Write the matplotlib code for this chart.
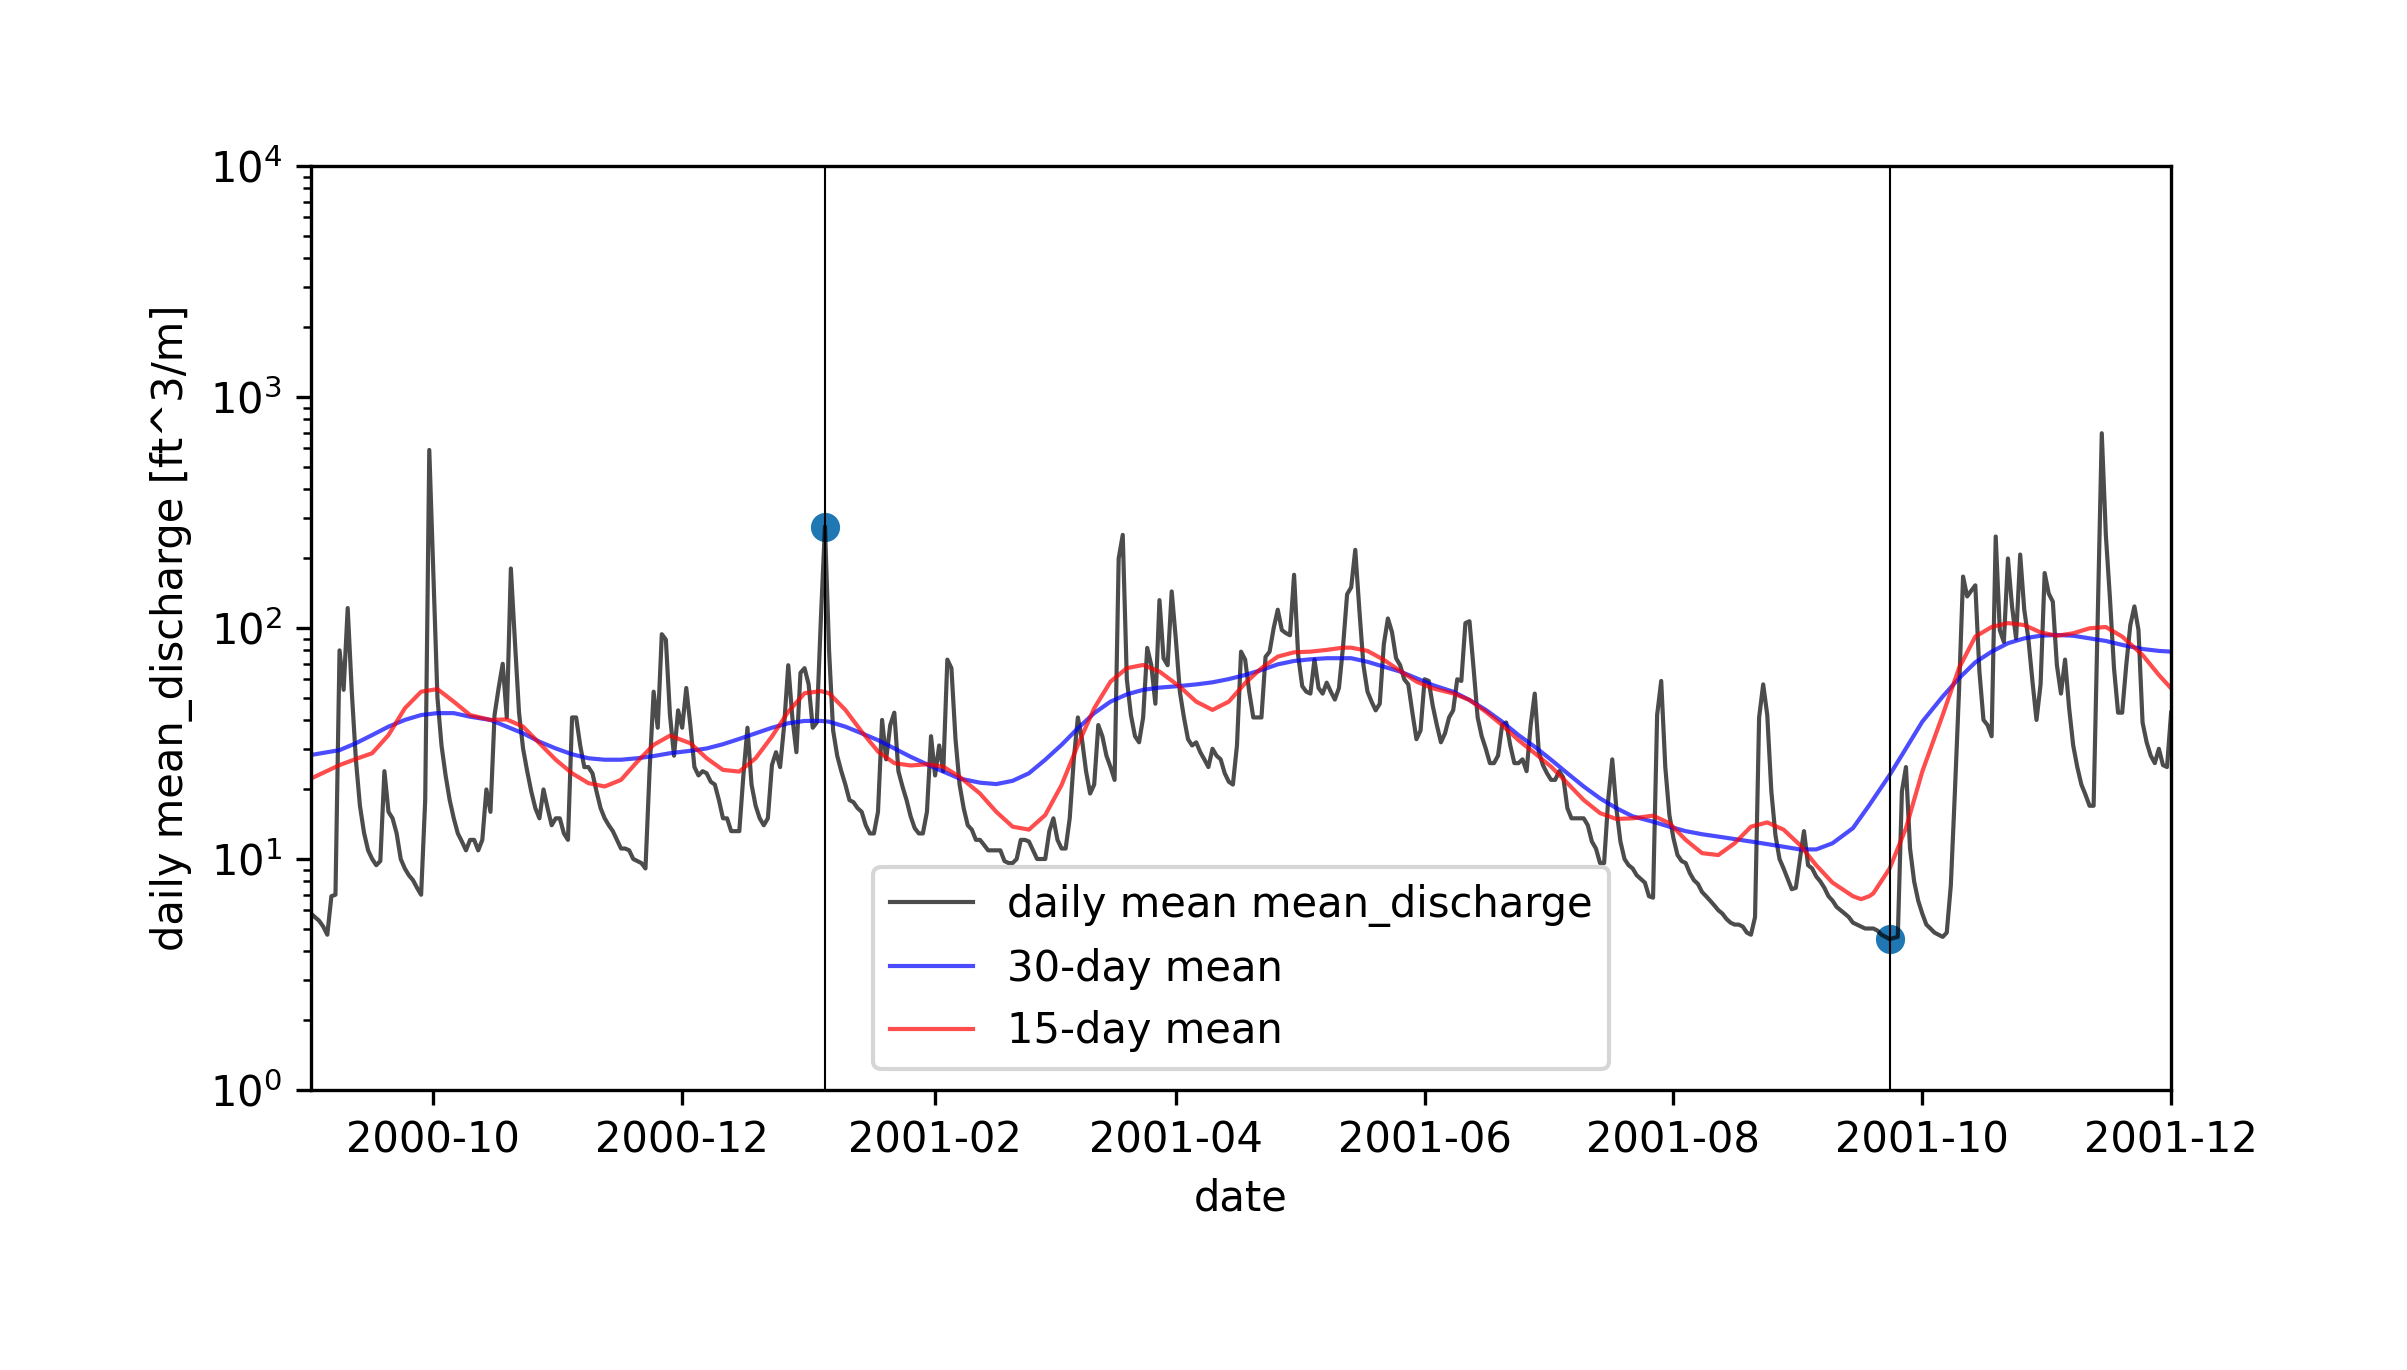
import numpy as np
import pandas as pd
import matplotlib
matplotlib.use('Agg')
import matplotlib.pyplot as plt
import matplotlib.dates as mdates

# daily mean discharge, one value per day starting 2000-09-01
start_date = '2000-09-01'
sep_2000 = [5.8, 5.6, 5.4, 5.1, 4.7, 6.9, 7.0, 80, 54, 122, 53, 27, 17, 13, 10.9,
            10.0, 9.4, 9.8, 24, 16, 15, 12.9, 10.0, 9.1, 8.5, 8.1, 7.5, 7.0, 18, 590]
oct_2000 = [170, 50, 31, 23, 18, 15, 12.9, 11.9, 10.9, 12.1, 12.1, 10.9, 12.1, 20, 16,
            42, 55, 70, 41, 181, 87, 43, 30, 24, 19.6, 16.6, 15, 20, 16.6, 14, 15]
nov_2000 = [15, 12.9, 12.1, 41, 41, 31, 25, 25, 23.5, 19.6, 16.6, 15, 14, 13.2, 12.1,
            11.1, 11.1, 10.9, 10, 9.8, 9.6, 9.1, 24, 53, 37, 94, 89, 42, 28, 44]
dec_2000 = [37, 55, 38, 25, 23, 24, 23.5, 21.6, 21, 18, 15, 15, 13.2, 13.2, 13.2, 23,
            37, 21, 17, 15, 14, 15, 25.5, 29, 25, 38, 69, 41, 29, 64, 67]
jan_2001 = [57, 37, 39, 110, 275, 80, 36, 28, 24, 21, 18, 17.6, 16.6, 16, 14, 12.9,
            12.9, 16, 40, 27, 38, 43, 24, 20.6, 18, 15.3, 13.6, 12.9, 12.9, 16, 34]
feb_2001 = [23, 31, 24, 73, 67, 33, 21, 16.6, 14, 13.4, 12.1, 12.1, 11.5, 10.9, 10.9,
            10.9, 10.9, 9.8, 9.6, 9.6, 10, 12.1, 12.1, 11.9, 10.9, 10, 10, 10]
mar_2001 = [13.2, 15, 12.1, 11.1, 11.1, 15, 27, 41, 33, 24, 19.2, 21, 38, 34, 28, 25,
            22, 200, 253, 60, 42, 34, 32, 41, 82, 69, 47, 132, 74, 69, 144]
apr_2001 = [90, 53, 41, 33, 31, 32, 29, 27, 25, 30, 28, 27, 23.5, 21.6, 21, 31, 79,
            73, 53, 41, 41, 41, 75, 79, 100, 120, 98, 95, 93, 170]
may_2001 = [76, 56, 53, 52, 73, 55, 52, 58, 53, 49, 55, 83, 140, 150, 218, 120, 69,
            53, 48, 44, 47, 85, 110, 96, 74, 69, 60, 57, 43, 33, 36]
jun_2001 = [60, 59, 46, 38, 32, 35, 41, 44, 60, 59, 105, 107, 67, 41, 34, 30, 26, 26,
            28, 38, 39, 31, 26, 26, 27, 24, 38, 52, 29, 25.5]
jul_2001 = [23.5, 22, 22, 24, 22.5, 16.6, 15, 15, 15, 15, 14, 11.9, 11.1, 9.6, 9.6, 18,
            27, 16.6, 11.9, 10, 9.4, 9.1, 8.5, 8.2, 7.9, 6.9, 6.8, 42, 59, 25, 15.5]
aug_2001 = [12.3, 10.4, 9.8, 9.6, 8.7, 8.1, 7.8, 7.2, 6.9, 6.6, 6.3, 6.0, 5.8, 5.5, 5.3,
            5.2, 5.2, 5.1, 4.8, 4.7, 5.6, 41, 57, 42, 19.6, 12.7, 10, 9.1, 8.2, 7.4, 7.5]
sep_2001 = [10, 13.2, 9.4, 9.1, 8.4, 8.0, 7.5, 6.9, 6.6, 6.2, 6.0, 5.8, 5.6, 5.3, 5.2,
            5.1, 5.0, 5.0, 5.0, 4.9, 4.7, 4.6, 4.5, 4.55, 4.6, 19.6, 25, 11.1, 8.0, 6.6]
oct_2001 = [5.8, 5.2, 5.0, 4.8, 4.7, 4.6, 4.8, 7.7, 19.6, 53, 167, 137, 145, 153, 65,
            40, 38, 34, 249, 98, 87, 200, 124, 90, 208, 120, 90, 59, 40, 57, 173]
nov_2001 = [141, 130, 69, 52, 73, 45, 31, 25, 21, 19, 17, 17, 110, 697, 253, 135, 67,
            43, 43, 69, 103, 124, 98, 39, 32, 28, 26, 30, 25.5, 25]
dec_2001 = [43]

daily_values = (sep_2000 + oct_2000 + nov_2000 + dec_2000 + jan_2001 + feb_2001
                + mar_2001 + apr_2001 + may_2001 + jun_2001 + jul_2001 + aug_2001
                + sep_2001 + oct_2001 + nov_2001 + dec_2001)

# smoothed curves, read as (days after start, value)
mean30_days = [0, 7, 11, 15, 19, 23, 27, 31, 35, 39, 44, 48, 52, 56, 60, 64, 68, 72,
               76, 80, 84, 88, 93, 97, 101, 105, 109, 113, 117, 121, 125, 127, 131,
               135, 139, 143, 147, 151, 155, 159, 164, 168, 172, 176, 180, 184, 188,
               192, 196, 200, 204, 208, 213, 217, 221, 225, 229, 233, 237, 241, 245,
               249, 253, 255, 259, 263, 267, 271, 275, 280, 284, 288, 292, 296, 300,
               304, 308, 312, 316, 320, 324, 329, 333, 337, 341, 345, 349, 353, 357,
               361, 365, 369, 373, 378, 382, 387, 391, 395, 400, 404, 408, 412, 416,
               420, 424, 428, 432, 436, 440, 444, 449, 453, 456]
mean30_values = [28.2, 29.6, 31.7, 34.4, 37.4, 40, 42, 42.8, 42.8, 41.3, 40, 37.4, 35,
                 32.2, 30.1, 28.4, 27.3, 26.9, 26.9, 27.3, 27.9, 28.7, 29.4, 30.1, 31.4,
                 33.1, 35, 37, 38.7, 39.6, 39.6, 39.3, 37.4, 35, 32.7, 30.1, 27.7, 25.7,
                 23.9, 22.3, 21.4, 21.1, 21.8, 23.5, 26.9, 31.2, 36.8, 42.8, 48, 51.6,
                 54, 55.2, 56.1, 57, 58.2, 60.1, 62.6, 65.8, 69.6, 72, 73.2, 74, 74, 74,
                 71.4, 68, 64.8, 60.6, 56.6, 53, 48.8, 44.2, 39.3, 34.4, 30.6, 26.9,
                 23.5, 20.6, 18.3, 16.6, 15.3, 14.5, 13.8, 13.2, 12.8, 12.5, 12.2, 11.9,
                 11.6, 11.3, 11.0, 11.0, 11.7, 13.6, 17.1, 23.1, 30.1, 39.3, 50.5, 60.6,
                 71, 79, 85.9, 90.2, 92.6, 93.3, 92.6, 90.2, 87.9, 84.5, 81.1, 79.6, 79]

mean15_days = [0, 7, 11, 15, 19, 23, 27, 31, 35, 39, 44, 48, 52, 56, 60, 64, 68, 72,
               76, 80, 84, 88, 93, 97, 101, 105, 109, 113, 117, 121, 125, 127, 131,
               135, 139, 143, 147, 151, 155, 159, 164, 168, 172, 176, 180, 184, 188,
               192, 196, 200, 204, 208, 213, 217, 221, 225, 229, 233, 237, 241, 245,
               249, 253, 255, 259, 263, 267, 271, 275, 280, 284, 288, 292, 296, 300,
               304, 308, 312, 316, 320, 324, 329, 333, 337, 341, 345, 349, 353, 357,
               361, 365, 369, 373, 378, 380, 382, 383, 387, 391, 395, 400, 404, 408,
               412, 416, 420, 424, 428, 432, 436, 440, 444, 449, 453, 456]
mean15_values = [22.3, 25.5, 27.1, 28.7, 34.4, 44.9, 53, 54.4, 48, 42, 40, 40.2, 37.4,
                 31.7, 26.9, 23.5, 21.3, 20.6, 22, 26.4, 31.2, 34.2, 31.7, 27.3, 24.3,
                 23.9, 27.3, 33.9, 43.4, 52.2, 53.3, 52.2, 44.2, 35.6, 29.2, 26, 25.4,
                 25.7, 25.1, 22.7, 19.2, 16, 13.8, 13.4, 15.5, 20.9, 31.2, 44.9, 58.6,
                 67, 69.2, 64.8, 55.7, 48, 44.2, 48, 57.7, 67, 75.2, 78.5, 79, 80.4,
                 82.2, 82.2, 79.6, 72.8, 65.2, 58.6, 54.8, 52.1, 48.8, 43.4, 38, 32.7,
                 28.7, 25.1, 21.3, 18, 15.8, 14.9, 15, 15.4, 14.3, 12.1, 10.6, 10.4,
                 11.7, 13.8, 14.4, 13.4, 11.5, 9.4, 7.9, 6.9, 6.7, 6.9, 7.1, 9.1, 13.6,
                 23.9, 42, 67, 91.8, 101, 105, 103, 95.7, 92.6, 94.9, 99.7, 101, 91.8,
                 76.4, 62.6, 54.8]

# water year used for the max / min markers
water_year_start = '2000-10-01'
water_year_end = '2001-09-30'

dates = pd.date_range(start_date, periods=len(daily_values), freq='D')
daily = pd.Series(daily_values, index=dates)
t0 = pd.Timestamp(start_date)
dates30 = t0 + pd.to_timedelta(mean30_days, unit='D')
dates15 = t0 + pd.to_timedelta(mean15_days, unit='D')

wy = daily[water_year_start:water_year_end]
t_max, v_max = wy.idxmax(), wy.max()
t_min, v_min = wy.idxmin(), wy.min()

fig, ax = plt.subplots(figsize=(2407 / 300, 1370 / 300), dpi=300)
fig.subplots_adjust(left=0.1292, right=0.902, top=0.8788, bottom=0.2044)

ax.scatter([t_max, t_min], [v_max, v_min])
ax.plot(daily.index, daily.values, color='k', alpha=0.7, linewidth=1,
        label='daily mean mean_discharge')
ax.plot(dates30, mean30_values, color='b', alpha=0.7, linewidth=1, label='30-day mean')
ax.plot(dates15, mean15_values, color='r', alpha=0.7, linewidth=1, label='15-day mean')
ax.axvline(t_max, color='k', linewidth=0.5)
ax.axvline(t_min, color='k', linewidth=0.5)

ax.set_yscale('log')
ax.set_ylim(1, 1e4)
ax.set_xlim(dates[0], dates[-1])
ax.xaxis.set_major_locator(mdates.MonthLocator(bymonth=range(2, 13, 2)))
ax.xaxis.set_major_formatter(mdates.DateFormatter('%Y-%m'))
ax.set_xlabel('date')
ax.set_ylabel('daily mean_discharge [ft^3/m]')
ax.legend(loc='lower center')

fig.savefig('out.png', dpi=300)
